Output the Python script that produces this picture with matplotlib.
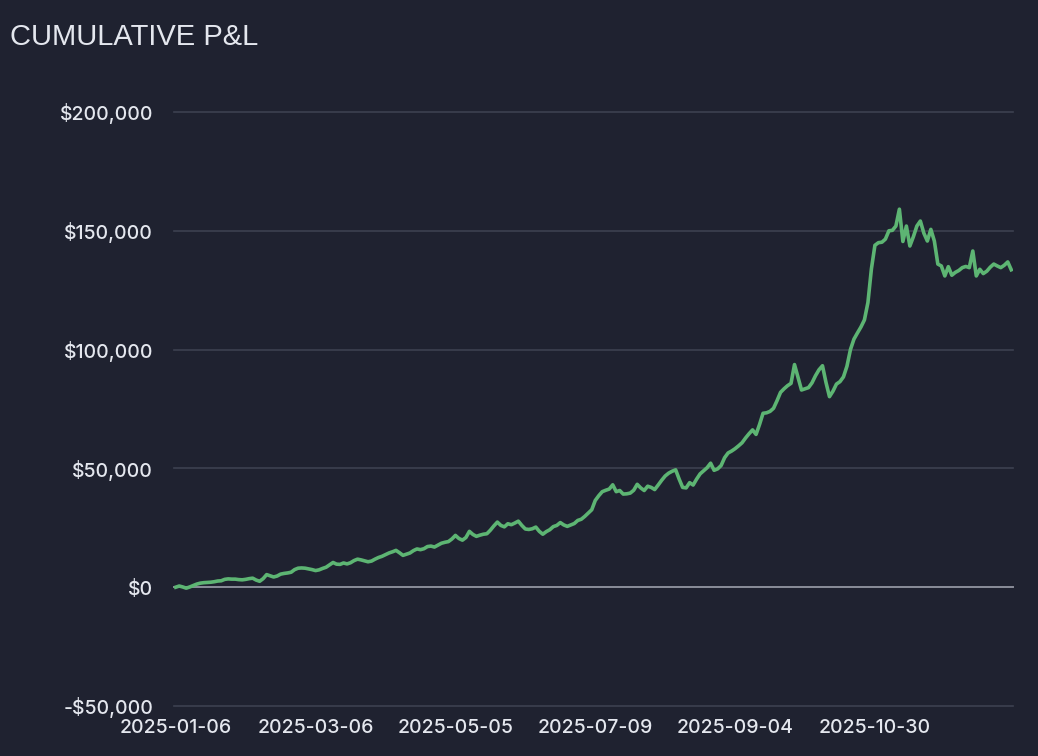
import numpy as np
import matplotlib.pyplot as plt
from matplotlib.ticker import FuncFormatter

# cumulative P&L, one value per trading day
pnl = [
    0, 500, 100, -400, 100, 700, 1300, 1700, 1900, 2000,
    2100, 2300, 2600, 2700, 3300, 3500, 3400, 3400, 3200, 3100,
    3300, 3600, 3800, 3000, 2500, 3600, 5300, 4800, 4300, 4700,
    5500, 5800, 6000, 6300, 7400, 8000, 8100, 8000, 7700, 7400,
    7000, 7300, 7900, 8400, 9400, 10400, 9700, 9600, 10200, 9800,
    10300, 11200, 11800, 11500, 11100, 10700, 11000, 11800, 12500, 13000,
    13700, 14400, 14900, 15500, 14500, 13400, 13900, 14400, 15400, 16100,
    15800, 16200, 17100, 17300, 16900, 17700, 18500, 18900, 19200, 20300,
    21800, 20500, 19800, 20900, 23500, 22200, 21400, 21900, 22300, 22500,
    24000, 25800, 27400, 26000, 25400, 26700, 26300, 27000, 27800, 26000,
    24500, 24300, 24600, 25300, 23500, 22300, 23400, 24200, 25500, 26000,
    27200, 26200, 25600, 26200, 26800, 28100, 28600, 29800, 31200, 32600,
    36500, 38500, 40200, 40800, 41300, 43100, 40200, 40700, 39200, 39300,
    39600, 40800, 43300, 41800, 40700, 42500, 42000, 41100, 43000, 45000,
    46800, 48000, 48800, 49400, 45500, 42000, 41800, 44000, 43000, 45500,
    47700, 49000, 50300, 52200, 49200, 49800, 51200, 54500, 56500, 57300,
    58300, 59500, 60800, 62800, 64600, 66200, 64300, 68500, 73200, 73400,
    74000, 75300, 78500, 82000, 83500, 84800, 85800, 93700, 88300, 83000,
    83500, 84000, 86000, 89000, 91500, 93200, 86200, 80200, 82500, 85500,
    86500, 88500, 93000, 100000, 104400, 107000, 109500, 112500, 119800, 134000,
    143900, 145000, 145200, 146500, 150000, 150200, 152000, 159100, 145500, 152000,
    143600, 147500, 152000, 154100, 149000, 145700, 150600, 145700, 136000, 135200,
    131000, 134900, 131300, 132500, 133300, 134500, 135000, 134500, 141500, 131000,
    133800, 132000, 133000, 134700, 136000, 135200, 134500, 135500, 136900, 133600,
]
date_labels = ['2025-01-06', '2025-03-06', '2025-05-05', '2025-07-09', '2025-09-04', '2025-10-30']
label_step = 40
y_ticks = [-50000, 0, 50000, 100000, 150000, 200000]

bg = '#1f2230'
text_col = '#e4e7ee'

fig = plt.figure(figsize=(10.38, 7.56), dpi=100, facecolor=bg)
ax = fig.add_axes([174 / 1038, 50 / 756, 839 / 1038, 594 / 756])
ax.set_facecolor(bg)

x = np.arange(len(pnl))
ax.plot(x, pnl, color='#5db573', lw=2.6, solid_joinstyle='round', zorder=3)

ax.set_xlim(-0.5, len(pnl) - 0.5)
ax.set_ylim(y_ticks[0], y_ticks[-1])
ax.set_yticks(y_ticks)
ax.yaxis.set_major_formatter(FuncFormatter(lambda v, p: f'-${abs(v):,.0f}' if v < 0 else f'${v:,.0f}'))
ax.set_xticks(x[::label_step])
ax.set_xticklabels(date_labels)

for v in y_ticks:
    if v == 0:
        ax.axhline(v, color='#8a8d99', lw=1.4, zorder=2, clip_on=False)
    else:
        ax.axhline(v, color='#3d4150', lw=1.2, zorder=1, clip_on=False)

for s in ax.spines.values():
    s.set_visible(False)
ax.tick_params(length=0, colors=text_col, labelsize=14)
ax.tick_params(axis='y', pad=15)
ax.tick_params(axis='x', pad=9.5)
for lab in ax.get_xticklabels() + ax.get_yticklabels():
    lab.set_fontfamily('Inter')
    lab.set_fontweight('medium')

fig.text(10 / 1038, 1 - 45 / 756, 'CUMULATIVE P&L', color=text_col, fontsize=21,
         family='Liberation Sans', va='baseline', ha='left')

fig.savefig('out.png', dpi=100, facecolor=bg)
